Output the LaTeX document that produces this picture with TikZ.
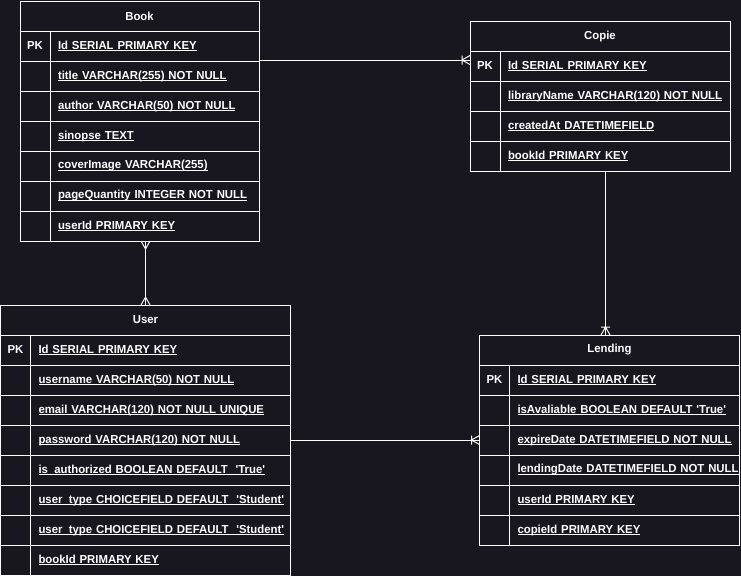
\documentclass[tikz,border=0pt]{standalone}
\usepackage{fontspec}
\setmainfont[FakeStretch=0.98]{Liberation Sans}
\definecolor{bg}{HTML}{18161F}
\newcommand{\ulx}[1]{\setbox0\hbox{#1}\rlap{\rule[-1.8pt]{\wd0}{0.9pt}}\box0}
\newcommand{\q}{\textquotesingle}
\tikzset{
  tbl/.style={draw=white, line width=1pt, outer sep=0pt, anchor=north west, minimum height=30pt,
    inner sep=0pt, text=white, font=\bfseries\fontsize{11.6}{14}\selectfont},
  hd/.style={tbl, align=center},
  pkcell/.style={tbl, minimum width=30pt},
  fld/.style={tbl, inner xsep=8pt, align=left},
  conn/.style={draw=white, line width=1pt},
  crowmany/.pic={\draw[conn] (-8,0) -- (0,4.5) (-8,0) -- (0,-4.5);},
  crowonemany/.pic={\draw[conn] (-8,0) -- (0,4.5) (-8,0) -- (0,-4.5) (-8,-4.5) -- (-8,4.5);},
}
\begin{document}
\begin{tikzpicture}[x=1pt,y=-1pt]
\fill[bg] (0,0) rectangle (741,576);
\useasboundingbox (0,0) rectangle (741,576);

% Book
\node[hd, minimum width=239pt] (book) at (20,1) {Book};
\foreach [count=\i] \t in {{Id SERIAL PRIMARY KEY},{title VARCHAR(255) NOT NULL},{author VARCHAR(50) NOT NULL},{sinopse TEXT},{coverImage VARCHAR(255)},{pageQuantity INTEGER NOT NULL},{userId PRIMARY KEY}}{
  \node[pkcell] (book-pk\i) at (20,{1+30*\i}) {\ifnum\i=1 PK\fi};
  \node[fld, text width=193pt] (book-f\i) at (50,{1+30*\i}) {\rlap{\ulx{\t}}};
}

% Copie
\node[hd, minimum width=260pt] (copie) at (470,21) {Copie};
\foreach [count=\i] \t in {{Id SERIAL PRIMARY KEY},{libraryName VARCHAR(120) NOT NULL},{createdAt DATETIMEFIELD},{bookId PRIMARY KEY}}{
  \node[pkcell] (copie-pk\i) at (470,{21+30*\i}) {\ifnum\i=1 PK\fi};
  \node[fld, text width=214pt] (copie-f\i) at (500,{21+30*\i}) {\rlap{\ulx{\t}}};
}

% User
\node[hd, minimum width=290pt] (user) at (0.5,305) {User};
\foreach [count=\i] \t in {{Id SERIAL PRIMARY KEY},{username VARCHAR(50) NOT NULL},{email VARCHAR(120) NOT NULL UNIQUE},{password VARCHAR(120) NOT NULL},{is\_authorized BOOLEAN DEFAULT~ \q True\q},{user\_type CHOICEFIELD DEFAULT~ \q Student\q},{user\_type CHOICEFIELD DEFAULT~ \q Student\q},{bookId PRIMARY KEY}}{
  \node[pkcell] (user-pk\i) at (0.5,{305+30*\i}) {\ifnum\i=1 PK\fi};
  \node[fld, text width=244pt] (user-f\i) at (30.5,{305+30*\i}) {\rlap{\ulx{\t}}};
}

% Lending
\node[hd, minimum width=260pt] (lending) at (479.5,335) {Lending};
\foreach [count=\i] \t in {{Id SERIAL PRIMARY KEY},{isAvaliable BOOLEAN DEFAULT \q True\q},{expireDate DATETIMEFIELD NOT NULL},{lendingDate DATETIMEFIELD NOT NULL},{userId PRIMARY KEY},{copieId PRIMARY KEY}}{
  \node[pkcell] (lending-pk\i) at (479.5,{335+30*\i}) {\ifnum\i=1 PK\fi};
  \node[fld, text width=214pt] (lending-f\i) at (509.5,{335+30*\i}) {\rlap{\ulx{\t}}};
}

% connectors
\draw[conn] ([yshift=-14pt]book-f1.east) -- ([yshift=6pt]copie-pk1.west);
\pic at ([yshift=6pt]copie-pk1.west) {crowonemany};

\draw[conn] (user.north |- book-f7.south) -- (user.north);
\pic[rotate=90] at (user.north |- book-f7.south) {crowmany};
\pic[rotate=-90] at (user.north) {crowmany};

\draw[conn] ([xshift=-4pt]lending.north |- copie-f4.south) -- ([xshift=-4pt]lending.north);
\pic[rotate=-90] at ([xshift=-4pt]lending.north) {crowonemany};

\draw[conn] (user-f4.east) -- (lending-pk3.west);
\pic at (lending-pk3.west) {crowonemany};
\end{tikzpicture}
\end{document}
